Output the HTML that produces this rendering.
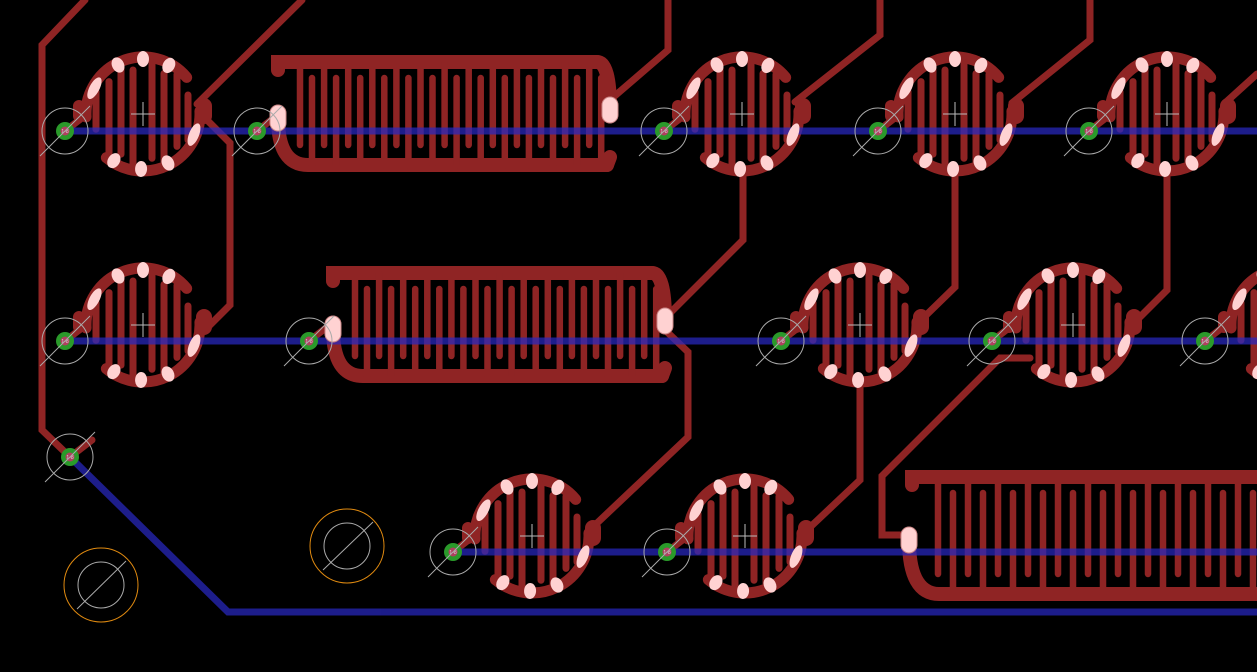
<!DOCTYPE html>
<html><head><meta charset="utf-8"><style>
html,body{margin:0;padding:0;background:#000;}
svg{display:block;}
</style></head><body>
<svg id="s" width="1257" height="672" viewBox="0 0 1257 672" xmlns="http://www.w3.org/2000/svg" font-family="Liberation Sans, sans-serif"></svg>
<script>
(function(){
var R='#8f2424',P='#ffd2d2';
var red=[],tp=[];
function line(pts,w,c){red.push('<polyline points="'+pts+'" fill="none" stroke="'+(c||R)+'" stroke-width="'+(w||7)+'" stroke-linejoin="miter" stroke-linecap="round"/>');}
function pol(a,r,cx,cy){var t=a*Math.PI/180;return [cx+r*Math.cos(t),cy-r*Math.sin(t)];}
function arc(cx,cy,r,a0,a1,w){
 var p0=pol(a0,r,cx,cy),p1=pol(a1,r,cx,cy);var large=(a1-a0)>180?1:0;
 red.push('<path d="M'+p0[0]+' '+p0[1]+' A'+r+' '+r+' 0 '+large+' 0 '+p1[0]+' '+p1[1]+'" fill="none" stroke="'+R+'" stroke-width="'+w+'" stroke-linecap="round"/>');}
function round(cx,cy){
 arc(cx,cy,57,40,183,11);
 arc(cx,cy,57,-130,3,11);
 var offs=[-47,-34,-22,-10,9,21,34,45];
 offs.forEach(function(dx,i){var h=Math.sqrt(52*52-dx*dx);var topA=(i%2==0);
  var y0=topA?cy-h:cy-h+7,y1=topA?cy+h-7:cy+h;
  red.push('<line x1="'+(cx+dx)+'" y1="'+y0+'" x2="'+(cx+dx)+'" y2="'+y1+'" stroke="'+R+'" stroke-width="7" stroke-linecap="round"/>');});
 red.push('<rect x="'+(cx+53)+'" y="'+(cy-16)+'" width="16" height="26" rx="8" fill="'+R+'"/>');
 red.push('<rect x="'+(cx-70)+'" y="'+(cy-14)+'" width="12" height="22" rx="6" fill="'+R+'"/>');
 [[117,0],[90,0],[62,0],[152,1],[-22,1],[-63,0],[-92,0],[-122,0]].forEach(function(q){var a=q[0];var p=pol(a,55,cx,cy);
  var rot=q[1]?(-a):(90-a);
  tp.push('<ellipse cx="'+p[0]+'" cy="'+p[1]+'" rx="'+(q[1]?5:6)+'" ry="'+(q[1]?12:8)+'" fill="'+P+'" transform="rotate('+rot+' '+p[0]+' '+p[1]+')"/>');});
 tp.push('<line x1="'+(cx-12)+'" y1="'+cy+'" x2="'+(cx+12)+'" y2="'+cy+'" stroke="#bbb" stroke-width="1"/><line x1="'+cx+'" y1="'+(cy-12)+'" x2="'+cx+'" y2="'+(cy+12)+'" stroke="#bbb" stroke-width="1"/>');
}
function via(x,y){
 red.push('<line x1="'+x+'" y1="'+y+'" x2="'+(x+22)+'" y2="'+(y-17)+'" stroke="'+R+'" stroke-width="7" stroke-linecap="round"/>');
 tp.push('<circle cx="'+x+'" cy="'+y+'" r="9" fill="#2a9a2a"/><circle cx="'+x+'" cy="'+y+'" r="4.5" fill="#b04060"/><text x="'+x+'" y="'+(y+2)+'" font-size="5" fill="#ddd" text-anchor="middle">1-8</text><circle cx="'+x+'" cy="'+y+'" r="23" fill="none" stroke="#aaa" stroke-width="1"/><line x1="'+(x-25)+'" y1="'+(y+25)+'" x2="'+(x+25)+'" y2="'+(y-25)+'" stroke="#aaa" stroke-width="1"/>');
}
function longS(x0,yt,xr,yb,padL,padR,fT,fB,pitch,n,xEnd){
 line(x0+','+(yt+8)+' '+x0+','+yt+' '+(xEnd||xr-18)+','+yt,14);
 if(padR){red.push('<path d="M'+(xr-18)+' '+yt+' Q'+padR[0]+' '+yt+' '+padR[0]+' '+padR[1]+'" fill="none" stroke="'+R+'" stroke-width="14" stroke-linecap="round"/>');
  line((xr-5)+','+(yb-8)+' '+(xr-8)+','+yb,14);}
 red.push('<path d="M'+padL[0]+' '+padL[1]+' Q'+padL[0]+' '+yb+' '+(padL[0]+30)+' '+yb+' L'+(xEnd||xr-8)+' '+yb+'" fill="none" stroke="'+R+'" stroke-width="14" stroke-linecap="round"/>');
 for(var i=0;i<n;i++){var x=fT+i*pitch;red.push('<line x1="'+x+'" y1="'+yt+'" x2="'+x+'" y2="'+(yb-20)+'" stroke="'+R+'" stroke-width="6.5" stroke-linecap="round"/>');
  x=fB+i*pitch;red.push('<line x1="'+x+'" y1="'+yb+'" x2="'+x+'" y2="'+(yt+16)+'" stroke="'+R+'" stroke-width="6.5" stroke-linecap="round"/>');}
 tp.push('<rect x="'+(padL[0]-8)+'" y="'+(padL[1]-13)+'" width="16" height="26" rx="8" fill="'+P+'" stroke="#c88" stroke-width="1"/>');
 if(padR)tp.push('<rect x="'+(padR[0]-8)+'" y="'+(padR[1]-13)+'" width="16" height="26" rx="8" fill="'+P+'" stroke="#c88" stroke-width="1"/>');
}
line('85,0 42,45 42,430 70,457');
line('197,104 302,0');
line('205,118 230,143 230,305 205,330');
line('610,100 668,50 668,0');
line('795,102 880,35 880,0');
line('1012,103 1090,40 1090,0');
line('1225,103 1257,74');
line('743,170 743,240 665,318');
line('665,330 688,352 688,437 595,525');
line('955,170 955,287 915,326');
line('1167,170 1167,290 1132,325');
line('860,380 860,480 805,532');
line('1030,358 1000,358 882,476 882,535 905,535');
[[143,114],[742,114],[955,114],[1167,114],[143,325],[860,325],[1073,325],[1288,325],[532,536],[745,536]].forEach(function(c){round(c[0],c[1]);});
longS(278,62,615,165,[278,118],[610,110],300,312,24.1,13);
longS(333,273,670,376,[333,329],[665,321],355,367,24.1,13);
longS(912,477,1300,594,[909,540],null,938,953,30,11,1257);
[[65,131],[257,131],[664,131],[878,131],[1089,131],[65,341],[309,341],[781,341],[992,341],[1205,341],[453,552],[667,552],[70,457]].forEach(function(v){via(v[0],v[1]);});
var B='<g opacity="0.72" stroke="#2828c0" stroke-width="7" fill="none"><polyline points="65,131 1257,131"/><polyline points="65,341 1257,341"/><polyline points="453,552 1257,552"/><polyline points="70,457 228,612 1257,612"/></g>';
var O='<g fill="none" stroke-width="1"><circle cx="347" cy="546" r="37" stroke="#e08a10"/><circle cx="347" cy="546" r="23" stroke="#aaa"/><line x1="323" y1="570" x2="373" y2="522" stroke="#aaa"/><circle cx="101" cy="585" r="37" stroke="#e08a10"/><circle cx="101" cy="585" r="23" stroke="#aaa"/><line x1="77" y1="609" x2="126" y2="561" stroke="#aaa"/></g>';
document.getElementById('s').innerHTML=red.join('')+B+tp.join('')+O;
})();
</script>
</body></html>
